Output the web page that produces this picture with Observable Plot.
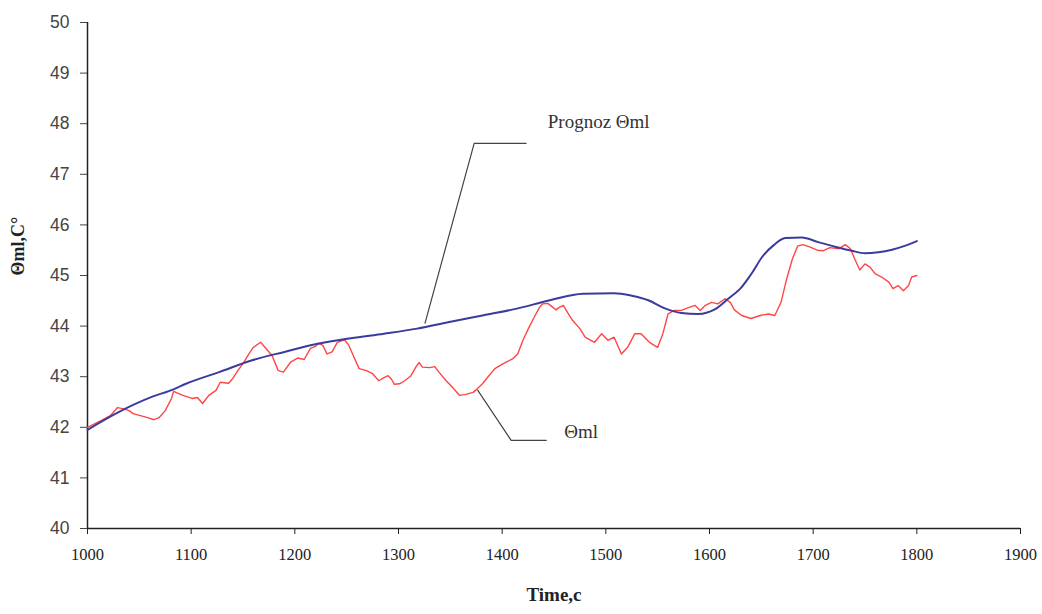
<!DOCTYPE html>
<html>
<head>
<meta charset="utf-8">
<script src="https://cdn.jsdelivr.net/npm/d3@7"></script>
<script src="https://cdn.jsdelivr.net/npm/@observablehq/plot@0.6"></script>
<style>
  html, body { margin: 0; padding: 0; background: #fff; }
  #chart svg { display: block; }
</style>
</head>
<body>
<div id="chart"></div>
<script>
// Measured temperature Θml (red)
const thetaTime = [1000,1013,1022,1029,1036,1040,1044,1051,1058,1064,1069,1075,1081,1083,1092,1101,1106,1111,1117,1124,1128,1136,1140,1145,1150,1156,1160,1167,1178,1184,1189,1196,1203,1209,1215,1220,1223,1227,1231,1236,1241,1248,1252,1257,1262,1269,1275,1281,1286,1290,1293,1296,1301,1306,1312,1317,1320,1323,1330,1335,1339,1346,1352,1359,1365,1372,1376,1381,1386,1393,1401,1410,1415,1420,1426,1431,1436,1439,1444,1449,1452,1455,1459,1463,1468,1475,1480,1489,1496,1502,1508,1515,1521,1528,1534,1542,1550,1555,1560,1566,1573,1579,1586,1591,1596,1602,1608,1615,1620,1624,1631,1640,1649,1657,1663,1669,1674,1680,1685,1690,1696,1704,1710,1716,1725,1731,1736,1740,1745,1750,1755,1760,1766,1773,1777,1782,1787,1792,1795,1800];
const thetaVals = [42.0,42.13,42.23,42.39,42.36,42.33,42.27,42.23,42.19,42.15,42.19,42.33,42.57,42.71,42.63,42.57,42.59,42.47,42.63,42.73,42.89,42.87,42.96,43.12,43.26,43.46,43.58,43.68,43.42,43.12,43.09,43.29,43.37,43.34,43.56,43.6,43.66,43.62,43.45,43.49,43.68,43.73,43.62,43.39,43.16,43.12,43.06,42.92,42.98,43.02,42.96,42.85,42.86,42.92,43.02,43.2,43.28,43.19,43.18,43.2,43.09,42.92,42.79,42.63,42.65,42.69,42.76,42.86,42.99,43.16,43.26,43.35,43.45,43.72,43.98,44.18,44.37,44.44,44.45,44.37,44.32,44.37,44.41,44.27,44.11,43.95,43.78,43.68,43.85,43.72,43.78,43.45,43.58,43.85,43.85,43.68,43.58,43.85,44.24,44.31,44.31,44.36,44.41,44.31,44.41,44.47,44.44,44.54,44.47,44.32,44.21,44.15,44.21,44.24,44.21,44.47,44.9,45.33,45.58,45.61,45.57,45.5,45.49,45.55,45.53,45.61,45.53,45.33,45.11,45.23,45.16,45.03,44.97,44.87,44.74,44.8,44.7,44.8,44.97,45.0];

// Forecast "Prognoz Θml" (blue)
const progTime = [1000,1030,1062,1083,1095,1127,1158,1190,1222,1254,1286,1318,1349,1381,1413,1446,1478,1508,1525,1541,1557,1573,1589,1605,1618,1631,1640,1652,1662,1673,1689,1705,1721,1737,1750,1763,1776,1789,1800];
const progVals = [41.95,42.3,42.6,42.75,42.86,43.09,43.32,43.49,43.65,43.76,43.85,43.95,44.08,44.21,44.34,44.51,44.64,44.65,44.6,44.51,44.35,44.26,44.24,44.33,44.54,44.77,45.02,45.4,45.6,45.74,45.75,45.66,45.57,45.49,45.44,45.46,45.51,45.59,45.68];

const xTicks = [1000,1100,1200,1300,1400,1500,1600,1700,1800,1900];
const yTicks = [40,41,42,43,44,45,46,47,48,49,50];

const xTitle = "Time,c";
const yTitle = "Θml,C°";
const progLabel = "Prognoz Θml";
const thetaLabel = "Θml";

// annotation leader lines (data units)
const progLeaderT = [1325.6, 1373, 1423];
const progLeaderV = [44.06, 47.61, 47.61];
const progLabelAt = [1444, 48.03];
const thetaLeaderT = [1376.5, 1408.7, 1442.5];
const thetaLeaderV = [42.73, 41.74, 41.74];
const thetaLabelAt = [1460, 41.9];

const theta = thetaTime.map((t, i) => ({t, v: thetaVals[i]}));
const prog = progTime.map((t, i) => ({t, v: progVals[i]}));
const progLeader = progLeaderT.map((t, i) => ({t, v: progLeaderV[i]}));
const thetaLeader = thetaLeaderT.map((t, i) => ({t, v: thetaLeaderV[i]}));

const serif = "Liberation Serif, Times New Roman, serif";
const sans = "Liberation Sans, Arial, sans-serif";

const chart = Plot.plot({
  width: 1042,
  height: 614,
  marginLeft: 87,
  marginRight: 22,
  marginTop: 22,
  marginBottom: 86,
  x: {domain: [1000, 1900]},
  y: {domain: [40, 50]},
  marks: [
    Plot.axisX({ticks: xTicks, tickSize: 6, tickPadding: 14, tickFormat: d => String(d), fontSize: 16.5, fontFamily: serif, color: "#222", label: null}),
    Plot.axisY({ticks: yTicks, tickSize: 7, tickPadding: 11, tickFormat: d => String(d), fontSize: 17.5, fontFamily: sans, color: "#444", label: null}),
    Plot.ruleY([40], {stroke: "#222", strokeWidth: 1.5}),
    Plot.ruleX([1000], {stroke: "#222", strokeWidth: 1.5}),
    Plot.line(progLeader, {x: "t", y: "v", stroke: "#444", strokeWidth: 1.2}),
    Plot.line(thetaLeader, {x: "t", y: "v", stroke: "#444", strokeWidth: 1.2}),
    Plot.line(theta, {x: "t", y: "v", stroke: "#ff4545", strokeWidth: 1.4}),
    Plot.line(prog, {x: "t", y: "v", stroke: "#3b3b9e", strokeWidth: 2, curve: "monotone-x"}),
    Plot.text([progLabel], {x: progLabelAt[0], y: progLabelAt[1], text: d => d, textAnchor: "start", fontSize: 19, fontFamily: serif, fill: "#333"}),
    Plot.text([thetaLabel], {x: thetaLabelAt[0], y: thetaLabelAt[1], text: d => d, textAnchor: "start", fontSize: 19, fontFamily: serif, fill: "#333"}),
    Plot.text([yTitle], {frameAnchor: "left", rotate: -90, dx: -69, text: d => d, fontSize: 18, fontWeight: "bold", fontFamily: serif, fill: "#222"}),
    Plot.text([xTitle], {frameAnchor: "bottom", dy: 72, text: d => d, fontSize: 19, fontWeight: "bold", fontFamily: serif, fill: "#222"})
  ]
});
document.getElementById("chart").appendChild(chart);
</script>
</body>
</html>
